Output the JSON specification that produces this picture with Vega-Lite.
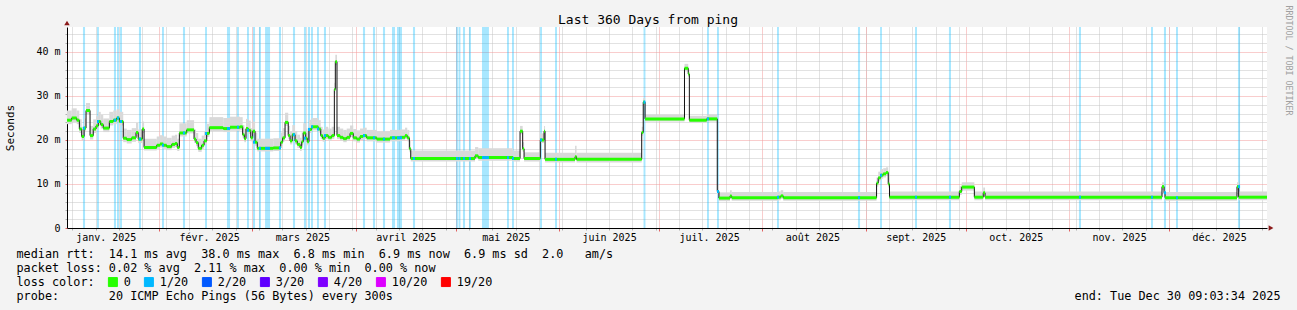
{
"$schema":"https://vega.github.io/schema/vega-lite/v6.json",
"width":1200,"height":201,"autosize":"none",
"padding":{"left":67,"top":27,"right":30,"bottom":82},
"background":"#f3f3f3",
"config":{"view":{"fill":"white","stroke":null},"font":"DejaVu Sans Mono"},
"title":{"text":"Last 360 Days from ping","anchor":"middle","frame":"group","dx":-19,"dy":14,"offset":-18,"baseline":"alphabetic","font":"DejaVu Sans Mono","fontSize":13,"fontWeight":"normal","color":"#000"},
"datasets":{
"seg":[
{"t":"2025-01-04T09:03","t2":"2025-01-05T19:00","m":24.5,"lo":23.6,"hi":26.7},
{"t":"2025-01-05T19:00","t2":"2025-01-07T07:00","m":25.0,"lo":24.1,"hi":27.2},
{"t":"2025-01-07T07:00","t2":"2025-01-08T02:00","m":24.5,"lo":23.6,"hi":26.7},
{"t":"2025-01-08T02:00","t2":"2025-01-08T19:00","m":22.5,"lo":21.6,"hi":24.7},
{"t":"2025-01-08T19:00","t2":"2025-01-09T12:00","m":20.8,"lo":19.9,"hi":23.0},
{"t":"2025-01-09T12:00","t2":"2025-01-10T02:00","m":22.7,"lo":21.8,"hi":24.9},
{"t":"2025-01-10T02:00","t2":"2025-01-11T07:00","m":26.7,"lo":25.8,"hi":28.4},
{"t":"2025-01-11T07:00","t2":"2025-01-12T06:00","m":21.0,"lo":20.1,"hi":23.2},
{"t":"2025-01-12T06:00","t2":"2025-01-13T02:00","m":22.5,"lo":21.6,"hi":24.7},
{"t":"2025-01-13T02:00","t2":"2025-01-13T18:00","m":23.2,"lo":22.3,"hi":25.4},
{"t":"2025-01-13T18:00","t2":"2025-01-14T12:00","m":24.2,"lo":23.3,"hi":26.4},
{"t":"2025-01-14T12:00","t2":"2025-01-15T06:00","m":23.5,"lo":22.6,"hi":25.7},
{"t":"2025-01-15T06:00","t2":"2025-01-17T02:00","m":22.7,"lo":21.8,"hi":24.9},
{"t":"2025-01-17T02:00","t2":"2025-01-18T06:00","m":24.2,"lo":23.3,"hi":26.4},
{"t":"2025-01-18T06:00","t2":"2025-01-19T07:00","m":24.5,"lo":23.6,"hi":26.7},
{"t":"2025-01-19T07:00","t2":"2025-01-20T02:00","m":25.0,"lo":24.1,"hi":27.0},
{"t":"2025-01-20T02:00","t2":"2025-01-21T06:00","m":24.2,"lo":23.3,"hi":26.4},
{"t":"2025-01-21T06:00","t2":"2025-01-22T07:00","m":20.4,"lo":19.5,"hi":22.6},
{"t":"2025-01-22T07:00","t2":"2025-01-23T19:00","m":20.1,"lo":19.2,"hi":22.3},
{"t":"2025-01-23T19:00","t2":"2025-01-25T02:00","m":20.5,"lo":19.6,"hi":22.7},
{"t":"2025-01-25T02:00","t2":"2025-01-25T18:00","m":21.7,"lo":20.8,"hi":23.9},
{"t":"2025-01-25T18:00","t2":"2025-01-26T23:00","m":20.2,"lo":19.3,"hi":22.4},
{"t":"2025-01-26T23:00","t2":"2025-01-27T12:00","m":22.5,"lo":21.6,"hi":24.2},
{"t":"2025-01-27T12:00","t2":"2025-01-31T07:00","m":18.3,"lo":17.6,"hi":20.3},
{"t":"2025-01-31T07:00","t2":"2025-02-01T07:00","m":18.8,"lo":18.0,"hi":20.8},
{"t":"2025-02-01T07:00","t2":"2025-02-02T06:00","m":19.1,"lo":18.3,"hi":21.1},
{"t":"2025-02-02T06:00","t2":"2025-02-03T07:00","m":18.8,"lo":18.0,"hi":20.8},
{"t":"2025-02-03T07:00","t2":"2025-02-04T19:00","m":18.5,"lo":17.7,"hi":20.5},
{"t":"2025-02-04T19:00","t2":"2025-02-05T19:00","m":19.0,"lo":18.2,"hi":21.0},
{"t":"2025-02-05T19:00","t2":"2025-02-06T11:00","m":19.2,"lo":18.4,"hi":21.2},
{"t":"2025-02-06T11:00","t2":"2025-02-07T02:00","m":18.3,"lo":17.5,"hi":20.3},
{"t":"2025-02-07T02:00","t2":"2025-02-09T07:00","m":21.6,"lo":20.8,"hi":23.8},
{"t":"2025-02-09T07:00","t2":"2025-02-11T12:00","m":22.3,"lo":21.5,"hi":24.5},
{"t":"2025-02-11T12:00","t2":"2025-02-12T02:00","m":20.2,"lo":19.4,"hi":22.4},
{"t":"2025-02-12T02:00","t2":"2025-02-12T18:00","m":19.4,"lo":18.6,"hi":21.6},
{"t":"2025-02-12T18:00","t2":"2025-02-13T19:00","m":18.1,"lo":17.3,"hi":20.3},
{"t":"2025-02-13T19:00","t2":"2025-02-14T12:00","m":18.8,"lo":18.0,"hi":21.0},
{"t":"2025-02-14T12:00","t2":"2025-02-15T07:00","m":19.8,"lo":19.0,"hi":22.0},
{"t":"2025-02-15T07:00","t2":"2025-02-16T02:00","m":21.5,"lo":20.7,"hi":23.7},
{"t":"2025-02-16T02:00","t2":"2025-02-20T06:00","m":22.8,"lo":22.0,"hi":25.2},
{"t":"2025-02-20T06:00","t2":"2025-02-22T07:00","m":22.6,"lo":21.8,"hi":25.0},
{"t":"2025-02-22T07:00","t2":"2025-02-25T07:00","m":22.9,"lo":22.1,"hi":25.3},
{"t":"2025-02-25T07:00","t2":"2025-02-26T02:00","m":23.0,"lo":22.2,"hi":25.2},
{"t":"2025-02-26T02:00","t2":"2025-02-26T14:00","m":21.2,"lo":20.4,"hi":23.4},
{"t":"2025-02-26T14:00","t2":"2025-02-27T02:00","m":20.3,"lo":19.5,"hi":22.5},
{"t":"2025-02-27T02:00","t2":"2025-02-27T18:00","m":22.6,"lo":21.8,"hi":24.8},
{"t":"2025-02-27T18:00","t2":"2025-02-28T12:00","m":22.2,"lo":21.4,"hi":24.4},
{"t":"2025-02-28T12:00","t2":"2025-03-01T02:00","m":20.5,"lo":19.7,"hi":22.7},
{"t":"2025-03-01T02:00","t2":"2025-03-01T19:00","m":22.0,"lo":21.2,"hi":24.2},
{"t":"2025-03-01T19:00","t2":"2025-03-02T11:00","m":19.5,"lo":18.7,"hi":21.7},
{"t":"2025-03-02T11:00","t2":"2025-03-07T06:00","m":18.1,"lo":17.4,"hi":20.3},
{"t":"2025-03-07T06:00","t2":"2025-03-09T12:00","m":18.2,"lo":17.5,"hi":20.4},
{"t":"2025-03-09T12:00","t2":"2025-03-10T02:00","m":19.5,"lo":18.7,"hi":21.7},
{"t":"2025-03-10T02:00","t2":"2025-03-10T19:00","m":20.5,"lo":19.7,"hi":22.7},
{"t":"2025-03-10T19:00","t2":"2025-03-11T18:00","m":24.0,"lo":23.2,"hi":26.2},
{"t":"2025-03-11T18:00","t2":"2025-03-12T07:00","m":21.0,"lo":20.2,"hi":23.2},
{"t":"2025-03-12T07:00","t2":"2025-03-12T23:00","m":19.8,"lo":19.0,"hi":22.0},
{"t":"2025-03-12T23:00","t2":"2025-03-13T19:00","m":21.2,"lo":20.4,"hi":23.4},
{"t":"2025-03-13T19:00","t2":"2025-03-14T11:00","m":19.8,"lo":19.0,"hi":22.0},
{"t":"2025-03-14T11:00","t2":"2025-03-15T07:00","m":19.0,"lo":18.2,"hi":21.2},
{"t":"2025-03-15T07:00","t2":"2025-03-15T19:00","m":18.3,"lo":17.5,"hi":20.5},
{"t":"2025-03-15T19:00","t2":"2025-03-16T06:00","m":19.6,"lo":18.8,"hi":21.8},
{"t":"2025-03-16T06:00","t2":"2025-03-17T00:00","m":21.6,"lo":20.8,"hi":23.8},
{"t":"2025-03-17T00:00","t2":"2025-03-17T11:00","m":20.4,"lo":19.6,"hi":22.6},
{"t":"2025-03-17T11:00","t2":"2025-03-17T23:00","m":19.6,"lo":18.8,"hi":21.8},
{"t":"2025-03-17T23:00","t2":"2025-03-18T19:00","m":22.4,"lo":21.6,"hi":24.6},
{"t":"2025-03-18T19:00","t2":"2025-03-20T18:00","m":23.0,"lo":22.2,"hi":25.0},
{"t":"2025-03-20T18:00","t2":"2025-03-21T12:00","m":22.5,"lo":21.7,"hi":24.5},
{"t":"2025-03-21T12:00","t2":"2025-03-22T02:00","m":21.0,"lo":20.2,"hi":23.0},
{"t":"2025-03-22T02:00","t2":"2025-03-22T19:00","m":20.4,"lo":19.6,"hi":22.4},
{"t":"2025-03-22T19:00","t2":"2025-03-23T18:00","m":21.0,"lo":20.2,"hi":23.0},
{"t":"2025-03-23T18:00","t2":"2025-03-24T19:00","m":20.6,"lo":19.8,"hi":22.6},
{"t":"2025-03-24T19:00","t2":"2025-03-25T14:00","m":21.0,"lo":20.2,"hi":23.0},
{"t":"2025-03-25T14:00","t2":"2025-03-25T21:00","m":31.5,"lo":30.5,"hi":33.0},
{"t":"2025-03-25T21:00","t2":"2025-03-26T09:00","m":37.8,"lo":37.0,"hi":39.4},
{"t":"2025-03-26T09:00","t2":"2025-03-27T07:00","m":21.0,"lo":20.2,"hi":23.0},
{"t":"2025-03-27T07:00","t2":"2025-03-28T06:00","m":20.6,"lo":19.8,"hi":22.6},
{"t":"2025-03-28T06:00","t2":"2025-03-29T07:00","m":20.3,"lo":19.5,"hi":22.3},
{"t":"2025-03-29T07:00","t2":"2025-03-30T07:00","m":20.6,"lo":19.8,"hi":22.6},
{"t":"2025-03-30T07:00","t2":"2025-03-31T06:00","m":21.5,"lo":20.7,"hi":23.3},
{"t":"2025-03-31T06:00","t2":"2025-04-01T07:00","m":20.5,"lo":19.7,"hi":22.5},
{"t":"2025-04-01T07:00","t2":"2025-04-02T07:00","m":20.2,"lo":19.4,"hi":22.2},
{"t":"2025-04-02T07:00","t2":"2025-04-03T06:00","m":20.8,"lo":20.0,"hi":22.6},
{"t":"2025-04-03T06:00","t2":"2025-04-04T07:00","m":21.0,"lo":20.2,"hi":22.8},
{"t":"2025-04-04T07:00","t2":"2025-04-07T07:00","m":20.5,"lo":19.7,"hi":22.3},
{"t":"2025-04-07T07:00","t2":"2025-04-11T07:00","m":20.2,"lo":19.4,"hi":22.0},
{"t":"2025-04-11T07:00","t2":"2025-04-14T07:00","m":20.5,"lo":19.7,"hi":22.3},
{"t":"2025-04-14T07:00","t2":"2025-04-15T19:00","m":20.6,"lo":19.8,"hi":22.4},
{"t":"2025-04-15T19:00","t2":"2025-04-16T11:00","m":21.0,"lo":20.2,"hi":22.8},
{"t":"2025-04-16T11:00","t2":"2025-04-17T02:00","m":20.5,"lo":19.7,"hi":22.3},
{"t":"2025-04-17T02:00","t2":"2025-04-17T12:00","m":18.0,"lo":17.2,"hi":20.0},
{"t":"2025-04-17T12:00","t2":"2025-05-06T19:00","m":15.8,"lo":15.1,"hi":17.6},
{"t":"2025-05-06T19:00","t2":"2025-05-07T18:00","m":16.4,"lo":15.7,"hi":18.4},
{"t":"2025-05-07T18:00","t2":"2025-05-18T06:00","m":16.0,"lo":15.3,"hi":18.1},
{"t":"2025-05-18T06:00","t2":"2025-05-20T07:00","m":15.8,"lo":15.1,"hi":17.6},
{"t":"2025-05-20T07:00","t2":"2025-05-21T02:00","m":22.0,"lo":21.3,"hi":23.2},
{"t":"2025-05-21T02:00","t2":"2025-05-21T12:00","m":18.0,"lo":17.3,"hi":19.5},
{"t":"2025-05-21T12:00","t2":"2025-05-26T09:00","m":15.8,"lo":15.1,"hi":17.2},
{"t":"2025-05-26T09:00","t2":"2025-05-27T12:00","m":20.0,"lo":19.3,"hi":21.5},
{"t":"2025-05-27T12:00","t2":"2025-05-27T19:00","m":22.0,"lo":21.3,"hi":23.2},
{"t":"2025-05-27T19:00","t2":"2025-06-05T19:00","m":15.6,"lo":14.9,"hi":17.1},
{"t":"2025-06-05T19:00","t2":"2025-06-06T06:00","m":16.2,"lo":15.5,"hi":18.7},
{"t":"2025-06-06T06:00","t2":"2025-06-25T19:00","m":15.6,"lo":14.9,"hi":17.1},
{"t":"2025-06-25T19:00","t2":"2025-06-26T06:00","m":21.7,"lo":21.0,"hi":23.0},
{"t":"2025-06-26T06:00","t2":"2025-06-26T19:00","m":28.6,"lo":27.8,"hi":29.5},
{"t":"2025-06-26T19:00","t2":"2025-07-08T15:00","m":24.8,"lo":24.2,"hi":25.8},
{"t":"2025-07-08T15:00","t2":"2025-07-09T18:00","m":36.3,"lo":35.6,"hi":37.3},
{"t":"2025-07-09T18:00","t2":"2025-07-10T02:00","m":35.0,"lo":34.4,"hi":36.0},
{"t":"2025-07-10T02:00","t2":"2025-07-15T07:00","m":24.5,"lo":23.9,"hi":25.5},
{"t":"2025-07-15T07:00","t2":"2025-07-18T11:00","m":24.8,"lo":24.2,"hi":25.8},
{"t":"2025-07-18T11:00","t2":"2025-07-18T23:00","m":8.3,"lo":7.6,"hi":9.8},
{"t":"2025-07-18T23:00","t2":"2025-07-22T07:00","m":6.8,"lo":6.1,"hi":8.1},
{"t":"2025-07-22T07:00","t2":"2025-07-22T19:00","m":7.3,"lo":6.6,"hi":8.6},
{"t":"2025-07-22T19:00","t2":"2025-08-05T18:00","m":6.9,"lo":6.2,"hi":8.2},
{"t":"2025-08-05T18:00","t2":"2025-08-06T12:00","m":7.0,"lo":6.3,"hi":8.3},
{"t":"2025-08-06T12:00","t2":"2025-08-07T06:00","m":7.3,"lo":6.6,"hi":8.6},
{"t":"2025-08-07T06:00","t2":"2025-09-04T06:00","m":6.9,"lo":6.2,"hi":8.2},
{"t":"2025-09-04T06:00","t2":"2025-09-04T18:00","m":10.2,"lo":9.4,"hi":11.5},
{"t":"2025-09-04T18:00","t2":"2025-09-05T12:00","m":11.4,"lo":10.6,"hi":12.8},
{"t":"2025-09-05T12:00","t2":"2025-09-06T06:00","m":12.0,"lo":11.2,"hi":13.4},
{"t":"2025-09-06T06:00","t2":"2025-09-07T02:00","m":12.3,"lo":11.5,"hi":13.6},
{"t":"2025-09-07T02:00","t2":"2025-09-07T18:00","m":12.6,"lo":11.8,"hi":13.8},
{"t":"2025-09-07T18:00","t2":"2025-09-08T03:00","m":10.0,"lo":9.2,"hi":11.5},
{"t":"2025-09-08T03:00","t2":"2025-09-29T02:00","m":7.0,"lo":6.3,"hi":8.3},
{"t":"2025-09-29T02:00","t2":"2025-09-29T19:00","m":8.3,"lo":7.5,"hi":9.5},
{"t":"2025-09-29T19:00","t2":"2025-10-03T14:00","m":9.3,"lo":8.5,"hi":10.4},
{"t":"2025-10-03T14:00","t2":"2025-10-06T06:00","m":7.0,"lo":6.3,"hi":8.3},
{"t":"2025-10-06T06:00","t2":"2025-10-06T19:00","m":8.0,"lo":7.2,"hi":9.2},
{"t":"2025-10-06T19:00","t2":"2025-11-28T21:00","m":7.0,"lo":6.3,"hi":8.3},
{"t":"2025-11-28T21:00","t2":"2025-11-29T12:00","m":9.4,"lo":8.6,"hi":10.4},
{"t":"2025-11-29T12:00","t2":"2025-11-29T19:00","m":8.0,"lo":7.2,"hi":9.2},
{"t":"2025-11-29T19:00","t2":"2025-12-21T09:00","m":6.9,"lo":6.2,"hi":8.2},
{"t":"2025-12-21T09:00","t2":"2025-12-21T21:00","m":9.4,"lo":8.6,"hi":10.4},
{"t":"2025-12-21T21:00","t2":"2025-12-30T09:03","m":7.0,"lo":6.3,"hi":8.3}
],
"bands":[
{"s":"2025-01-09T04:00","e":"2025-01-09T19:00","loss":"1/20","m":22.7},
{"s":"2025-01-13T09:00","e":"2025-01-13T23:00","loss":"1/20","m":24.2},
{"s":"2025-01-18T11:00","e":"2025-01-19T02:00","loss":"1/20","m":24.5},
{"s":"2025-01-19T09:00","e":"2025-01-19T23:00","loss":"1/20","m":25.0},
{"s":"2025-01-20T07:00","e":"2025-01-20T21:00","loss":"1/20","m":24.2},
{"s":"2025-01-25T23:00","e":"2025-01-26T14:00","loss":"1/20","m":20.2},
{"s":"2025-02-01T21:00","e":"2025-02-02T11:00","loss":"1/20","m":18.8},
{"s":"2025-02-08T04:00","e":"2025-02-08T19:00","loss":"1/20","m":21.6},
{"s":"2025-02-14T19:00","e":"2025-02-15T09:00","loss":"1/20","m":21.5},
{"s":"2025-02-21T09:00","e":"2025-02-22T07:00","loss":"1/20","m":22.6},
{"s":"2025-02-24T09:00","e":"2025-02-24T23:00","loss":"1/20","m":22.9},
{"s":"2025-02-27T09:00","e":"2025-02-27T23:00","loss":"1/20","m":22.2},
{"s":"2025-03-01T04:00","e":"2025-03-01T19:00","loss":"1/20","m":19.5},
{"s":"2025-03-02T23:00","e":"2025-03-03T14:00","loss":"1/20","m":18.1},
{"s":"2025-03-04T19:00","e":"2025-03-06T07:00","loss":"1/20","m":18.1},
{"s":"2025-03-08T23:00","e":"2025-03-09T14:00","loss":"1/20","m":18.2},
{"s":"2025-03-13T04:00","e":"2025-03-13T19:00","loss":"1/20","m":21.2},
{"s":"2025-03-16T11:00","e":"2025-03-17T02:00","loss":"1/20","m":20.4},
{"s":"2025-03-17T16:00","e":"2025-03-18T07:00","loss":"1/20","m":22.4},
{"s":"2025-03-18T14:00","e":"2025-03-19T04:00","loss":"1/20","m":23.0},
{"s":"2025-03-20T09:00","e":"2025-03-20T23:00","loss":"1/20","m":22.5},
{"s":"2025-03-22T11:00","e":"2025-03-23T02:00","loss":"1/20","m":21.0},
{"s":"2025-04-03T04:00","e":"2025-04-03T19:00","loss":"1/20","m":21.0},
{"s":"2025-04-06T04:00","e":"2025-04-06T19:00","loss":"1/20","m":20.5},
{"s":"2025-04-09T04:00","e":"2025-04-09T19:00","loss":"1/20","m":20.2},
{"s":"2025-04-11T21:00","e":"2025-04-12T19:00","loss":"1/20","m":20.5},
{"s":"2025-04-13T09:00","e":"2025-04-14T21:00","loss":"1/20","m":20.5},
{"s":"2025-04-18T04:00","e":"2025-04-18T19:00","loss":"1/20","m":15.8},
{"s":"2025-05-01T02:00","e":"2025-05-01T16:00","loss":"1/20","m":15.8},
{"s":"2025-05-01T20:00","e":"2025-05-02T10:00","loss":"1/20","m":15.8},
{"s":"2025-05-03T04:00","e":"2025-05-03T19:00","loss":"1/20","m":15.8},
{"s":"2025-05-04T23:00","e":"2025-05-05T14:00","loss":"1/20","m":15.8},
{"s":"2025-05-08T21:00","e":"2025-05-10T23:00","loss":"1/20","m":16.0},
{"s":"2025-05-16T09:00","e":"2025-05-16T23:00","loss":"1/20","m":16.0},
{"s":"2025-05-17T21:00","e":"2025-05-18T11:00","loss":"1/20","m":15.8},
{"s":"2025-05-26T07:00","e":"2025-05-26T21:00","loss":"1/20","m":20.0},
{"s":"2025-05-30T19:00","e":"2025-05-31T09:00","loss":"1/20","m":15.6},
{"s":"2025-06-26T08:00","e":"2025-06-26T22:00","loss":"1/20","m":28.6},
{"s":"2025-07-15T09:00","e":"2025-07-15T23:00","loss":"1/20","m":24.8},
{"s":"2025-07-18T09:00","e":"2025-07-18T23:00","loss":"1/20","m":8.3},
{"s":"2025-08-05T09:00","e":"2025-08-05T23:00","loss":"1/20","m":7.0},
{"s":"2025-08-29T16:00","e":"2025-08-30T07:00","loss":"1/20","m":6.9},
{"s":"2025-09-05T07:00","e":"2025-09-05T21:00","loss":"1/20","m":12.0},
{"s":"2025-09-15T19:00","e":"2025-09-16T09:00","loss":"1/20","m":7.0},
{"s":"2025-09-25T23:00","e":"2025-09-26T14:00","loss":"1/20","m":7.0},
{"s":"2025-11-03T23:00","e":"2025-11-04T14:00","loss":"1/20","m":7.0},
{"s":"2025-11-25T14:00","e":"2025-11-26T04:00","loss":"1/20","m":7.0},
{"s":"2025-11-29T11:00","e":"2025-11-30T02:00","loss":"1/20","m":8.0},
{"s":"2025-12-03T02:00","e":"2025-12-03T16:00","loss":"1/20","m":6.9},
{"s":"2025-12-21T16:00","e":"2025-12-22T07:00","loss":"1/20","m":9.4}
],
"axisEnds":[
{"t":"2025-12-30T09:03:34","v":0}
],
"axisTop":[
{"t":"2025-01-04T09:03:34","v":45.68}
]
},
"resolve":{"axis":{"x":"independent","y":"independent"}},
"layer":[
{"data":{"name":"bands"},
 "mark":{"type":"rect","fillOpacity":0.34},
 "encoding":{
  "x":{"field":"s","type":"temporal","scale":{"domain":[{"year":2025,"month":1,"date":4,"hours":9,"minutes":3,"seconds":34},{"year":2025,"month":12,"date":30,"hours":9,"minutes":3,"seconds":34}],"nice":false},
   "axis":{"orient":"bottom","values":[{"year":2025,"month":1,"date":6},{"year":2025,"month":1,"date":13},{"year":2025,"month":1,"date":20},{"year":2025,"month":1,"date":27},{"year":2025,"month":2,"date":3},{"year":2025,"month":2,"date":10},{"year":2025,"month":2,"date":17},{"year":2025,"month":2,"date":24},{"year":2025,"month":3,"date":3},{"year":2025,"month":3,"date":10},{"year":2025,"month":3,"date":17},{"year":2025,"month":3,"date":24},{"year":2025,"month":3,"date":31},{"year":2025,"month":4,"date":7},{"year":2025,"month":4,"date":14},{"year":2025,"month":4,"date":21},{"year":2025,"month":4,"date":28},{"year":2025,"month":5,"date":5},{"year":2025,"month":5,"date":12},{"year":2025,"month":5,"date":19},{"year":2025,"month":5,"date":26},{"year":2025,"month":6,"date":2},{"year":2025,"month":6,"date":9},{"year":2025,"month":6,"date":16},{"year":2025,"month":6,"date":23},{"year":2025,"month":6,"date":30},{"year":2025,"month":7,"date":7},{"year":2025,"month":7,"date":14},{"year":2025,"month":7,"date":21},{"year":2025,"month":7,"date":28},{"year":2025,"month":8,"date":4},{"year":2025,"month":8,"date":11},{"year":2025,"month":8,"date":18},{"year":2025,"month":8,"date":25},{"year":2025,"month":9,"date":1},{"year":2025,"month":9,"date":8},{"year":2025,"month":9,"date":15},{"year":2025,"month":9,"date":22},{"year":2025,"month":9,"date":29},{"year":2025,"month":10,"date":6},{"year":2025,"month":10,"date":13},{"year":2025,"month":10,"date":20},{"year":2025,"month":10,"date":27},{"year":2025,"month":11,"date":3},{"year":2025,"month":11,"date":10},{"year":2025,"month":11,"date":17},{"year":2025,"month":11,"date":24},{"year":2025,"month":12,"date":1},{"year":2025,"month":12,"date":8},{"year":2025,"month":12,"date":15},{"year":2025,"month":12,"date":22},{"year":2025,"month":12,"date":29}],
    "grid":true,"gridColor":"#c4c4c4","gridDash":[1,1],"ticks":true,"tickColor":"#b0b0b0","tickSize":2,"labels":false,"domain":false,"title":null}},
  "x2":{"field":"e"},
  "color":{"field":"loss","type":"nominal",
   "scale":{"domain":["0","1/20","2/20","3/20","4/20","10/20","19/20"],"range":["#26ff00","#00b8ff","#0059ff","#5e00ff","#7e00ff","#dd00ff","#ff0000"]},
   "legend":{"orient":"none","legendX":40,"legendY":249,"direction":"horizontal","title":null,"symbolType":"square","symbolSize":81,"labelFont":"DejaVu Sans Mono","labelFontSize":11.8,"labelColor":"#000","labelOffset":5,"columnPadding":11,"padding":0,
    "encode":{"symbols":{"update":{"opacity":{"value":1},"fillOpacity":{"value":1},"stroke":{"value":"#000"},"strokeWidth":{"value":1}}}}}}
 }},
{"data":{"name":"seg"},
 "mark":{"type":"rect","fill":"#d9d9d9"},
 "encoding":{
  "x":{"field":"t","type":"temporal","axis":{"orient":"bottom","tickCount":{"interval":"month","step":1},"grid":true,"gridColor":"#f29a9a","gridDash":[1,1],"ticks":true,"tickColor":"#e06060","tickSize":3,"labels":false,"domain":false,"title":null}},
  "x2":{"field":"t2"},
  "y":{"field":"lo","type":"quantitative","scale":{"domain":[0,45.68],"nice":false,"zero":false},
   "axis":{"orient":"left","values":[2,4,6,8,12,14,16,18,22,24,26,28,32,34,36,38,42,44],"grid":true,"gridColor":"#c4c4c4","gridDash":[1,1],"ticks":true,"tickSize":2,"tickColor":"#b0b0b0","labels":false,"domain":false,"title":null}},
  "y2":{"field":"hi"}
 }},
{"data":{"name":"seg"},
 "mark":{"type":"line","interpolate":"step-after","stroke":"#111","strokeWidth":1},
 "encoding":{
  "x":{"field":"t","type":"temporal",
   "axis":{"orient":"bottom","values":[{"year":2025,"month":1,"date":16},{"year":2025,"month":2,"date":16},{"year":2025,"month":3,"date":16},{"year":2025,"month":4,"date":16},{"year":2025,"month":5,"date":16},{"year":2025,"month":6,"date":16},{"year":2025,"month":7,"date":16},{"year":2025,"month":8,"date":16},{"year":2025,"month":9,"date":16},{"year":2025,"month":10,"date":16},{"year":2025,"month":11,"date":16},{"year":2025,"month":12,"date":16}],
    "labelExpr":"['janv.','févr.','mars','avril','mai','juin','juil.','août','sept.','oct.','nov.','déc.'][month(datum.value)] + ' ' + year(datum.value)",
    "labelFont":"DejaVu Sans Mono","labelFontSize":10,"labelColor":"#000","labelPadding":4,"labelFlush":false,"labelOverlap":false,
    "ticks":false,"grid":false,"domain":true,"domainColor":"#000","domainWidth":1,
    "title":["median rtt:\u00a0\u00a014.1\u00a0ms\u00a0avg\u00a0\u00a038.0\u00a0ms\u00a0max\u00a0\u00a06.8\u00a0ms\u00a0min\u00a0\u00a06.9\u00a0ms\u00a0now\u00a0\u00a06.9\u00a0ms\u00a0sd\u00a0\u00a02.0\u00a0\u00a0\u00a0am/s","packet\u00a0loss:\u00a00.02\u00a0%\u00a0avg\u00a0\u00a02.11\u00a0%\u00a0max\u00a0\u00a00.00\u00a0%\u00a0min\u00a0\u00a00.00\u00a0%\u00a0now","loss\u00a0color:","probe:\u00a0\u00a0\u00a0\u00a0\u00a0\u00a0\u00a020\u00a0ICMP\u00a0Echo\u00a0Pings\u00a0(56\u00a0Bytes)\u00a0every\u00a0300s"],
    "titleX":-51,"titleY":29.2,"titleAlign":"left","titleAnchor":null,"titleBaseline":"alphabetic","titleFont":"DejaVu Sans Mono","titleFontSize":11.8,"titleFontWeight":"normal","titleLineHeight":14,"titleColor":"#000"}},
  "y":{"field":"m","type":"quantitative",
   "axis":{"orient":"left","values":[0,10,20,30,40],"labelExpr":"datum.value == 0 ? '0\u00a0\u00a0' : datum.value + '\u00a0m'","labelFont":"DejaVu Sans Mono","labelFontSize":10,"labelColor":"#000","labelPadding":5,
    "ticks":true,"tickSize":2,"tickColor":"#e06060","grid":true,"gridColor":"#f29a9a","gridDash":[1,1],"domain":true,"domainColor":"#000",
    "title":"Seconds","titleX":-56.5,"titleY":100.5,"titleAngle":-90,"titleAlign":"center","titleBaseline":"middle","titleFont":"DejaVu Sans Mono","titleFontSize":11,"titleFontWeight":"normal","titleColor":"#000"}}
 }},
{"data":{"name":"seg"},
 "mark":{"type":"rule","strokeWidth":3,"strokeCap":"butt"},
 "encoding":{
  "x":{"field":"t","type":"temporal","axis":{"orient":"bottom","labels":false,"ticks":false,"grid":false,"domain":false,
    "title":"end:\u00a0Tue\u00a0Dec\u00a030\u00a009:03:34\u00a02025","titleX":1213,"titleY":71.2,"titleAlign":"right","titleAnchor":null,"titleBaseline":"alphabetic","titleFont":"DejaVu Sans Mono","titleFontSize":11.8,"titleFontWeight":"normal","titleColor":"#000"}},
  "x2":{"field":"t2"},
  "y":{"field":"m","type":"quantitative","axis":{"orient":"right","labels":false,"ticks":false,"grid":false,"domain":false,
    "title":"RRDTOOL / TOBI OETIKER","titleX":20,"titleY":-22,"titleAngle":90,"titleAlign":"left","titleBaseline":"middle","titleFont":"DejaVu Sans Mono","titleFontSize":8.3,"titleFontWeight":"normal","titleColor":"#a0a0a0"}},
  "color":{"datum":"0","type":"nominal","legend":null}
 }},
{"data":{"name":"bands"},
 "mark":{"type":"rule","strokeWidth":3,"strokeCap":"butt"},
 "encoding":{
  "x":{"field":"s","type":"temporal","axis":null},
  "x2":{"field":"e"},
  "y":{"field":"m","type":"quantitative","axis":null},
  "color":{"field":"loss","type":"nominal","legend":null}
 }},
{"data":{"name":"axisEnds"},
 "mark":{"type":"point","shape":"triangle-right","size":30,"filled":true,"fill":"#8b1a1a","opacity":1,"clip":false},
 "encoding":{
  "x":{"field":"t","type":"temporal","axis":null},
  "y":{"field":"v","type":"quantitative","axis":null},
  "xOffset":{"value":4}
 }},
{"data":{"name":"axisTop"},
 "mark":{"type":"point","shape":"triangle-up","size":30,"filled":true,"fill":"#8b1a1a","opacity":1,"clip":false},
 "encoding":{
  "x":{"field":"t","type":"temporal","axis":null},
  "y":{"field":"v","type":"quantitative","axis":null},
  "yOffset":{"value":-4}
 }}
]
}
